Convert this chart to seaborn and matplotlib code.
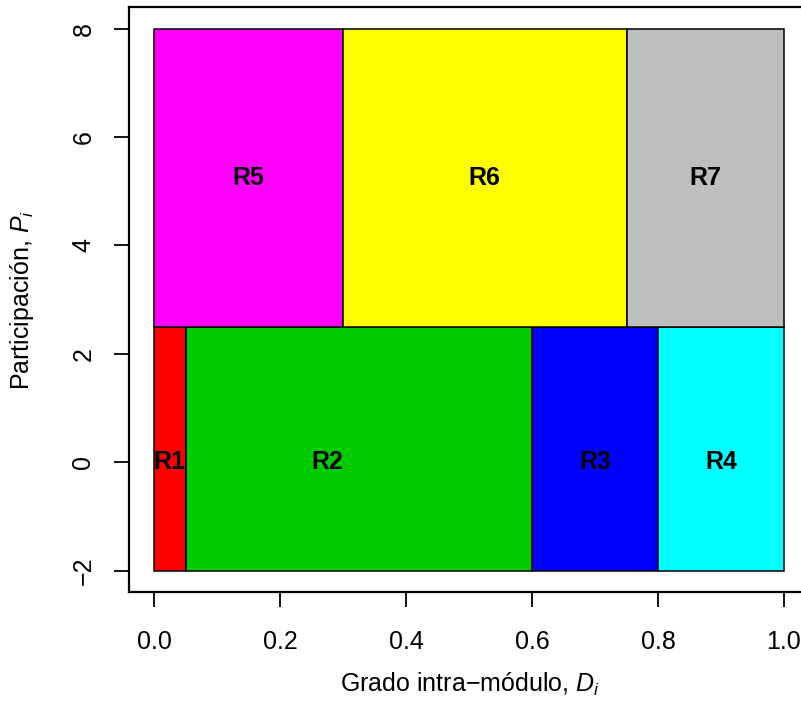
import matplotlib
matplotlib.use("Agg")
import matplotlib.pyplot as plt
import seaborn as sns
import pandas as pd

# Role regions in the (within-module degree, participation) plane
region_names = ["R1", "R2", "R3", "R4", "R5", "R6", "R7"]
x_left = [0.00, 0.05, 0.60, 0.80, 0.00, 0.30, 0.75]
x_right = [0.05, 0.60, 0.80, 1.00, 0.30, 0.75, 1.00]
y_bottom = [-2.0, -2.0, -2.0, -2.0, 2.5, 2.5, 2.5]
y_top = [2.5, 2.5, 2.5, 2.5, 8.0, 8.0, 8.0]
label_x = [0.025, 0.275, 0.70, 0.90, 0.15, 0.525, 0.875]
label_y = [0.0, 0.0, 0.0, 0.0, 5.25, 5.25, 5.25]
region_colors = ["#FF0000", "#00CD00", "#0000FF", "#00FFFF",
                 "#FF00FF", "#FFFF00", "#BEBEBE"]

x_ticks = [0.0, 0.2, 0.4, 0.6, 0.8, 1.0]
x_tick_labels = ["0.0", "0.2", "0.4", "0.6", "0.8", "1.0"]
y_ticks = [-2, 0, 2, 4, 6, 8]
y_tick_labels = ["\u22122", "0", "2", "4", "6", "8"]

regions = pd.DataFrame({
    "name": region_names, "x0": x_left, "x1": x_right,
    "y0": y_bottom, "y1": y_top, "lx": label_x, "ly": label_y,
    "color": region_colors,
})

sns.set_theme(style="white")
plt.rcParams["font.family"] = ["Liberation Sans", "DejaVu Sans"]
plt.rcParams["mathtext.fontset"] = "custom"
plt.rcParams["mathtext.it"] = "Liberation Sans:italic"
plt.rcParams["mathtext.rm"] = "Liberation Sans"
plt.rcParams["text.color"] = "black"
plt.rcParams["axes.labelcolor"] = "black"

FS = 18
W, H = 801, 718
fig = plt.figure(figsize=(W / 100, H / 100), dpi=100)
left_px, right_px, top_px, bottom_px = 128.8, 809.2, 7.0, 592.4
ax = fig.add_axes([left_px / W, 1 - bottom_px / H,
                   (right_px - left_px) / W, (bottom_px - top_px) / H])

ax.bar(regions["x0"], regions["y1"] - regions["y0"],
       width=regions["x1"] - regions["x0"], bottom=regions["y0"],
       align="edge", color=regions["color"], edgecolor="black",
       linewidth=1.1, zorder=2)

for _, r in regions.iterrows():
    ax.text(r["lx"], r["ly"], r["name"], ha="center", va="center",
            fontsize=FS, fontweight="bold", color="black", zorder=3)

ax.set_xlim(-0.04, 1.04)
ax.set_ylim(-2.4, 8.4)
ax.set_xticks(x_ticks)
ax.set_xticklabels(x_tick_labels, fontsize=FS)
ax.set_yticks(y_ticks)
ax.set_yticklabels(y_tick_labels, fontsize=FS, rotation=90, va="center")
ax.tick_params(axis="both", direction="out", length=11, width=1.3,
               color="black", labelcolor="black",
               bottom=True, left=True)
ax.tick_params(axis="x", pad=16)
ax.tick_params(axis="y", pad=13)
for sp in ax.spines.values():
    sp.set_color("black")
    sp.set_linewidth(1.6)
ax.grid(False)

fig.text(470 / W, 1 - 684 / H, "Grado intra\u2212módulo, $D_i$",
         ha="center", va="center", fontsize=FS, color="black")
fig.text(22 / W, 1 - 300 / H, "Participación, $P_i$",
         ha="center", va="center", fontsize=FS, rotation=90, color="black")

fig.savefig("out.png", dpi=100, facecolor="white")
